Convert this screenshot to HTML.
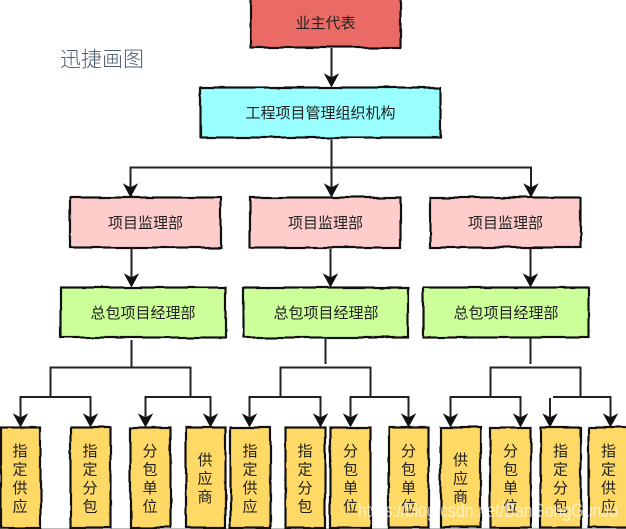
<!DOCTYPE html>
<html><head><meta charset="utf-8">
<style>
html,body{margin:0;padding:0;background:#fff;width:626px;height:529px;overflow:hidden}
svg{display:block}
text{font-family:"Liberation Sans","Noto Sans CJK SC",sans-serif;fill:#222;font-size:15px;text-anchor:middle;font-weight:400}
</style></head><body>
<svg width="626" height="529" viewBox="0 0 626 529" xmlns="http://www.w3.org/2000/svg">
<defs>
<filter id="w" x="-5%" y="-5%" width="110%" height="110%" color-interpolation-filters="sRGB">
<feTurbulence type="fractalNoise" baseFrequency="0.035" numOctaves="2" seed="4"/>
<feDisplacementMap in="SourceGraphic" scale="3.5" xChannelSelector="R" yChannelSelector="G"/>
</filter>
<path id="a" d="M0 0 L-6.5 -12 L0 -8.5 L6.5 -12 Z" fill="#111" stroke="#111" stroke-width="1"/>
</defs>
<rect x="0" y="528" width="626" height="1" fill="#bbb"/>
<g filter="url(#w)" stroke="#111" stroke-width="2.2">
<rect x="250.5" y="-3" width="150" height="50.5" fill="#EA6B66"/>
<rect x="200.5" y="87.5" width="240" height="50" fill="#99FFFF"/>
<g fill="#FFCCCC">
<rect x="70.5" y="197.5" width="150" height="50"/>
<rect x="250.5" y="197.5" width="150" height="50"/>
<rect x="430.5" y="197.5" width="150" height="50"/>
</g>
<g fill="#CCFF99">
<rect x="60.5" y="287.5" width="165" height="50"/>
<rect x="243.5" y="287.5" width="165" height="50"/>
<rect x="423.5" y="287.5" width="165" height="50"/>
</g>
<g fill="#FFD966">
<rect x="1" y="427.5" width="39.5" height="100"/>
<rect x="70.5" y="427.5" width="40" height="100"/>
<rect x="130.5" y="427.5" width="40" height="100"/>
<rect x="185.5" y="427.5" width="40" height="100"/>
<rect x="230.5" y="427.5" width="40" height="100"/>
<rect x="285.5" y="427.5" width="40" height="100"/>
<rect x="330.5" y="427.5" width="40" height="100"/>
<rect x="388.5" y="427.5" width="40" height="100"/>
<rect x="440.5" y="427.5" width="40" height="100"/>
<rect x="490.5" y="427.5" width="40" height="100"/>
<rect x="540.5" y="427.5" width="40" height="100"/>
<rect x="588.5" y="427.5" width="40" height="100"/>
</g>
</g>
<g fill="none" stroke="#222" stroke-width="2">
<path d="M331.5 48V80M331.5 140V190M130.5 190V167.5H531V190"/>
<path d="M131.5 249V280M330.5 249V280M530.5 249V280"/>
<path d="M131.5 340V367.5M50.5 397V367.5H190.5V397M20.5 420V397H90.5V420M145.5 420V397H210.5V420"/>
<path d="M325.5 338V364M280.5 397V367.5H370.5V397M249.5 420V397H320.5V420M350.5 420V397H408.5V420"/>
<path d="M530.5 338V364M490.5 397V367.5H580.5V397M450.5 420V397H520.5V420M550 398V420M553 397H610.5V420"/>
</g>
<g>
<use href="#a" x="331.5" y="86.5"/>
<use href="#a" x="130.5" y="196.5"/><use href="#a" x="331.5" y="196.5"/><use href="#a" x="531" y="196.5"/>
<use href="#a" x="131.5" y="286.5"/><use href="#a" x="330.5" y="286.5"/><use href="#a" x="530.5" y="286.5"/>
<use href="#a" x="20.5" y="426.5"/><use href="#a" x="90.5" y="426.5"/><use href="#a" x="145.5" y="426.5"/><use href="#a" x="210.5" y="426.5"/>
<use href="#a" x="249.5" y="426.5"/><use href="#a" x="320.5" y="426.5"/><use href="#a" x="350.5" y="426.5"/><use href="#a" x="408.5" y="426.5"/>
<use href="#a" x="450.5" y="426.5"/><use href="#a" x="520.5" y="426.5"/><use href="#a" x="550" y="426.5"/><use href="#a" x="610.5" y="426.5"/>
</g>
<text x="102" y="66.5" style="font-size:21px;fill:#4d5b70;font-weight:300">迅捷画图</text>
<text x="325.5" y="28">业主代表</text>
<text x="320.5" y="118">工程项目管理组织机构</text>
<text x="145.5" y="228">项目监理部</text>
<text x="325.5" y="228">项目监理部</text>
<text x="505.5" y="228">项目监理部</text>
<text x="143" y="318">总包项目经理部</text>
<text x="326" y="318">总包项目经理部</text>
<text x="506" y="318">总包项目经理部</text>
<g>
<text x="20" y="456">指</text><text x="20" y="474.5">定</text><text x="20" y="493">供</text><text x="20" y="511.5">应</text>
<text x="90" y="456">指</text><text x="90" y="474.5">定</text><text x="90" y="493">分</text><text x="90" y="511.5">包</text>
<text x="150" y="456">分</text><text x="150" y="474.5">包</text><text x="150" y="493">单</text><text x="150" y="511.5">位</text>
<text x="205" y="465">供</text><text x="205" y="483.5">应</text><text x="205" y="502">商</text>
<text x="250" y="456">指</text><text x="250" y="474.5">定</text><text x="250" y="493">供</text><text x="250" y="511.5">应</text>
<text x="305" y="456">指</text><text x="305" y="474.5">定</text><text x="305" y="493">分</text><text x="305" y="511.5">包</text>
<text x="350.5" y="456">分</text><text x="350.5" y="474.5">包</text><text x="350.5" y="493">单</text><text x="350.5" y="511.5">位</text>
<text x="408.5" y="456">分</text><text x="408.5" y="474.5">包</text><text x="408.5" y="493">单</text><text x="408.5" y="511.5">位</text>
<text x="460.5" y="465">供</text><text x="460.5" y="483.5">应</text><text x="460.5" y="502">商</text>
<text x="510.5" y="456">分</text><text x="510.5" y="474.5">包</text><text x="510.5" y="493">单</text><text x="510.5" y="511.5">位</text>
<text x="560.5" y="456">指</text><text x="560.5" y="474.5">定</text><text x="560.5" y="493">分</text><text x="560.5" y="511.5">包</text>
<text x="608.5" y="456">指</text><text x="608.5" y="474.5">定</text><text x="608.5" y="493">供</text><text x="608.5" y="511.5">应</text>
</g>
<text x="488" y="517" textLength="260" lengthAdjust="spacingAndGlyphs" style="font-size:19px;fill:#fff;fill-opacity:.62;font-weight:400">https://blog.csdn.net/BanGongGunJu</text>
</svg>
</body></html>
